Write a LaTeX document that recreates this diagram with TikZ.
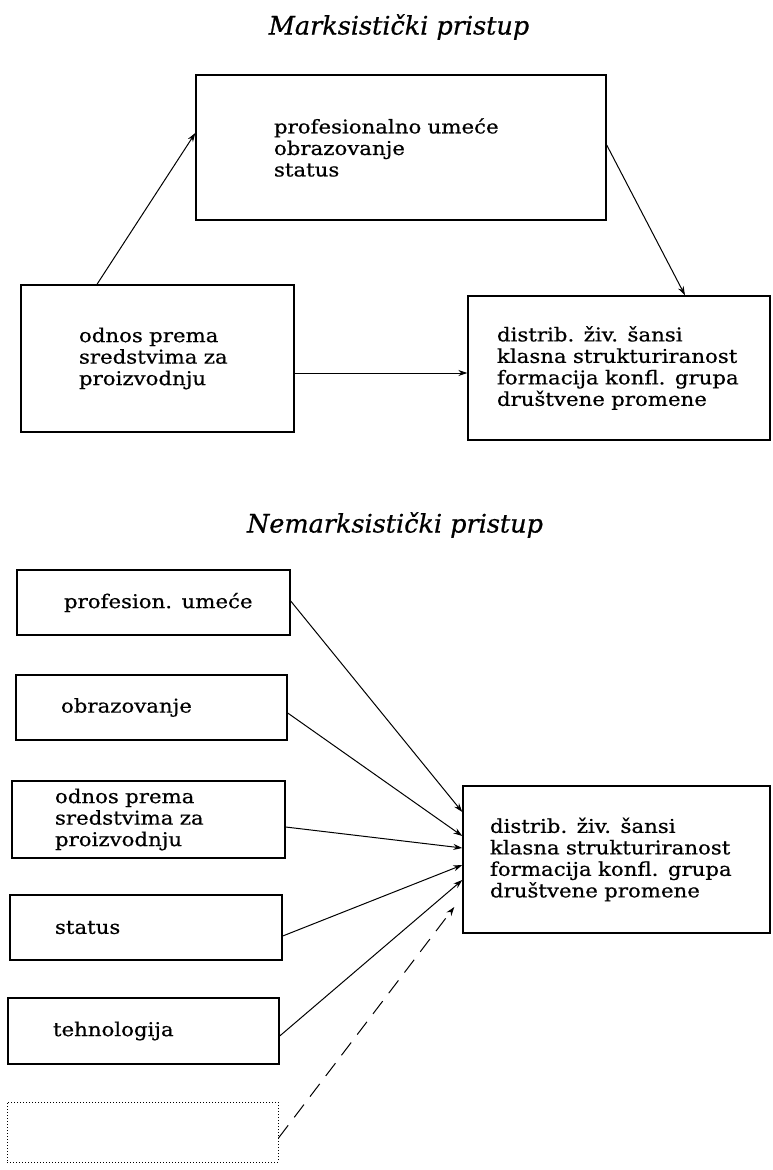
\documentclass[tikz,border=0pt]{standalone}
\usepackage{fontspec}
\setmainfont{DejaVu Serif}
\newfontfamily\bodyfont[FakeStretch=1.12,FakeBold=0.6]{DejaVu Serif}
\newfontfamily\titlefont[FakeBold=0.6]{DejaVu Serif}
\usetikzlibrary{arrows.meta}
\begin{document}
\begin{tikzpicture}[x=1pt,y=-1pt,
  box/.style={draw, line width=1.4pt, align=left, inner ysep=0pt,
    font=\bodyfont\fontsize{19}{21.5}\selectfont},
  conn/.style={line width=1pt, -{Stealth[length=9pt,width=6pt]}},
  ttl/.style={font=\titlefont\fontsize{25.5}{30}\selectfont\itshape}]
\useasboundingbox (0,0) rectangle (772,1170);
% ---------- Marksisticki pristup
\node[ttl] (t1) at (399,27) {Marksistički pristup};
\node[box, minimum width=410pt, minimum height=145pt, inner xsep=78pt, text width=254pt]
  (T) at (401,147.5) {\mbox{profesionalno umeće}\\\mbox{obrazovanje}\\\mbox{status}};
\node[box, minimum width=273pt, minimum height=147pt, inner xsep=58pt, text width=157pt]
  (L) at (157.5,358.5) {\mbox{odnos prema}\\\mbox{sredstvima za}\\\mbox{proizvodnju}};
\node[box, minimum width=302pt, minimum height=144pt, inner xsep=29pt, text width=244pt]
  (R1) at (619,368) {\mbox{distrib. živ. šansi}\\\mbox{klasna strukturiranost}\\\mbox{formacija konfl. grupa}\\\mbox{društvene promene}};
\draw[conn] ([xshift=-60.5pt]L.north) -- ([yshift=14.5pt]T.west);
\draw[conn] ([yshift=2.5pt]T.east) -- ([xshift=66pt]R1.north);
\draw[conn] ([yshift=-14.5pt]L.east) -- ([yshift=-14.5pt]L.east -| R1.west);
% ---------- Nemarksisticki pristup
\node[ttl] (t2) at (395,525) {Nemarksistički pristup};
\node[box, minimum width=273pt, minimum height=65pt, inner xsep=47pt, text width=179pt]
  (B1) at (153.5,602.5) {\mbox{profesion. umeće}};
\node[box, minimum width=271pt, minimum height=65pt, inner xsep=45pt, text width=181pt]
  (B2) at (151.5,707.5) {\mbox{obrazovanje}};
\node[box, minimum width=273pt, minimum height=77pt, inner xsep=43pt, text width=187pt]
  (B3) at (148.5,819.5) {\mbox{odnos prema}\\\mbox{sredstvima za}\\\mbox{proizvodnju}};
\node[box, minimum width=272pt, minimum height=65pt, inner xsep=45pt, text width=182pt]
  (B4) at (146,927.5) {\mbox{status}};
\node[box, minimum width=271pt, minimum height=66pt, inner xsep=45pt, text width=181pt]
  (B5) at (143.5,1031) {\mbox{tehnologija}};
\node[draw, dotted, line width=1pt, minimum width=271pt, minimum height=60pt, inner sep=0pt]
  (B6) at (142.5,1132) {};
\node[box, minimum width=307pt, minimum height=147pt, inner xsep=27pt, text width=253pt]
  (R2) at (616.5,859.5) {\mbox{distrib. živ. šansi}\\\mbox{klasna strukturiranost}\\\mbox{formacija konfl. grupa}\\\mbox{društvene promene}};
\draw[conn] ([yshift=1.5pt]B1.east) -- ([yshift=47.5pt]R2.west);
\draw[conn] ([yshift=-5.5pt]B2.east) -- ([yshift=23.5pt]R2.west);
\draw[conn] ([yshift=-7.5pt]B3.east) -- ([yshift=11.5pt]R2.west);
\draw[conn] ([yshift=-8.5pt]B4.east) -- ([yshift=-5.5pt]R2.west);
\draw[conn] ([yshift=-5pt]B5.east) -- ([yshift=-20.5pt]R2.west);
\draw[conn, dash pattern=on 16pt off 10pt] ([yshift=-6pt]B6.east) -- ([xshift=-8pt,yshift=-47.5pt]R2.west);
\end{tikzpicture}
\end{document}
